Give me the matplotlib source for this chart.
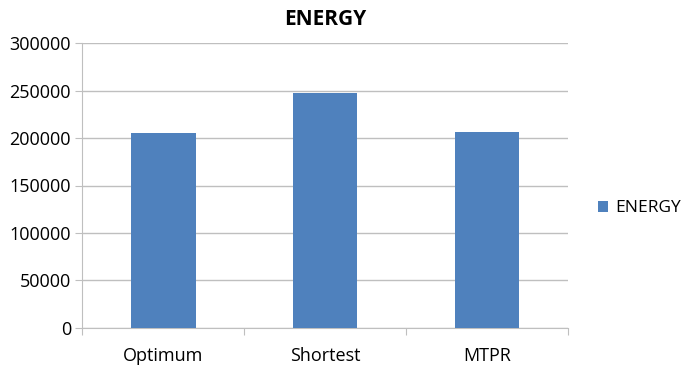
import numpy as np
import matplotlib.pyplot as plt

plt.rcParams['font.family'] = ['Open Sans', 'DejaVu Sans']

# Dados
categorias = ['Optimum', 'Shortest', 'MTPR']
energia = [205300, 247500, 206300]
yticks = [0, 50000, 100000, 150000, 200000, 250000, 300000]

cor_barra = '#4f81bd'
cor_grade = '#bfbfbf'

fig = plt.figure(figsize=(6.85, 3.71), dpi=100)
ax = fig.add_axes([0.12, 0.116, 0.709, 0.768])

x = np.arange(len(categorias))
ax.bar(x, energia, width=0.4, color=cor_barra, label='ENERGY', zorder=3)

ax.set_xlim(-0.5, len(categorias) - 0.5)
ax.set_ylim(0, 300000)
ax.set_yticks(yticks)
ax.set_yticklabels([str(v) for v in yticks], fontsize=13)
ax.yaxis.grid(True, color=cor_grade, linewidth=1, zorder=0)

# rótulos das categorias no centro, marcas nas divisões
ax.set_xticks(np.arange(len(categorias) + 1) - 0.5)
ax.set_xticklabels([''] * (len(categorias) + 1))
ax.set_xticks(x, minor=True)
ax.set_xticklabels(categorias, minor=True, fontsize=13)
ax.tick_params(axis='x', which='major', length=5, color=cor_grade, direction='out')
ax.tick_params(axis='x', which='minor', length=0, pad=14)
ax.tick_params(axis='y', length=5, color=cor_grade, pad=3)

for lado in ['top', 'right']:
    ax.spines[lado].set_visible(False)
for lado in ['left', 'bottom']:
    ax.spines[lado].set_color(cor_grade)

ax.set_title('ENERGY', fontsize=15, fontweight='bold', pad=13)

ax.legend(loc='center left', bbox_to_anchor=(1.03, 0.42), frameon=False,
          fontsize=12.5, handlelength=0.6, handleheight=0.6, handletextpad=0.4)

plt.savefig('out.png', dpi=100)
